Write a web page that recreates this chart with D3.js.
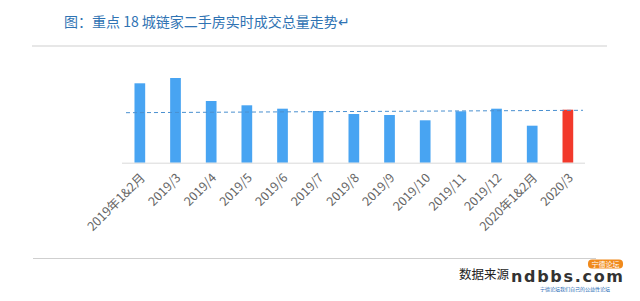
<!DOCTYPE html>
<html>
<head>
<meta charset="utf-8">
<script src="https://cdn.jsdelivr.net/npm/d3@7"></script>
<style>
  body { margin: 0; background: #fff; }
  svg { display: block; font-family: "Noto Sans CJK SC", "Noto Sans", sans-serif; }
</style>
</head>
<body>
<svg width="640" height="301"></svg>
<script>
'use strict'

// 重点18城链家二手房成交量（相对高度，读自原图）
const months = ['2019年1&2月', '2019/3', '2019/4', '2019/5', '2019/6', '2019/7', '2019/8',
  '2019/9', '2019/10', '2019/11', '2019/12', '2020年1&2月', '2020/3']
const volume = [79.4, 84.7, 61.7, 57.4, 54, 51.7, 48.7, 47.7, 42.4, 51.4, 54, 37, 53]
// 虚线参考线 起点/终点
const refLine = [50, 52.4]

const svg = d3.select('svg')

const x = d3.scaleBand().domain(months).range([122, 585.7])
  .paddingInner(0.7).paddingOuter(0.35)
const y = d3.scaleLinear().domain([0, 100]).range([162.7, 62.7])

// title
svg.append('text')
  .attr('x', 64).attr('y', 27)
  .style('font-size', '14px')
  .style('fill', '#2f73b3')
  .text('图：重点 18 城链家二手房实时成交总量走势↵')

svg.append('line')
  .attr('x1', 32).attr('x2', 607).attr('y1', 46).attr('y2', 46)
  .style('stroke', '#cfcfcf').style('stroke-width', 1.2)

// bars
svg.selectAll('rect.bar').data(months)
  .enter()
  .append('rect')
  .classed('bar', true)
  .attr('x', (d) => x(d))
  .attr('width', x.bandwidth())
  .attr('y', (d, i) => y(volume[i]))
  .attr('height', (d, i) => y(0) - y(volume[i]))
  .style('fill', (d, i) => i === months.length - 1 ? '#f2392b' : '#48a4f2')

// axis line
svg.append('line')
  .attr('x1', 122).attr('x2', 585).attr('y1', y(0) + 0.5).attr('y2', y(0) + 0.5)
  .style('stroke', '#d9d9d9')

// dashed reference line
svg.append('line')
  .attr('x1', 126).attr('x2', 583)
  .attr('y1', y(refLine[0])).attr('y2', y(refLine[1]))
  .style('stroke', '#4a90d0').style('stroke-width', 1)
  .style('stroke-dasharray', '4,3')

// tick labels
svg.selectAll('text.tick').data(months)
  .enter()
  .append('text')
  .classed('tick', true)
  .attr('transform', (d) => `translate(${x(d) + x.bandwidth() / 2 + 6},${y(0) + 16}) rotate(-45)`)
  .attr('text-anchor', 'end')
  .style('font-size', '12.5px')
  .style('fill', '#666')
  .text((d) => d)

// footer
svg.append('line')
  .attr('x1', 33).attr('x2', 596).attr('y1', 258.5).attr('y2', 258.5)
  .style('stroke', '#cfcfcf').style('stroke-width', 1.2)

svg.append('text')
  .attr('x', 459).attr('y', 279)
  .style('font-size', '12.5px')
  .style('fill', '#222')
  .text('数据来源')

svg.append('text')
  .attr('x', 511).attr('y', 282)
  .attr('textLength', 112)
  .style('font-family', '"DejaVu Sans", sans-serif')
  .style('font-size', '16px')
  .style('font-weight', 'bold')
  .style('fill', '#333')
  .text('ndbbs.com')

svg.append('rect')
  .attr('x', 588).attr('y', 259.5).attr('width', 35).attr('height', 9).attr('rx', 4)
  .style('fill', '#f08a1c')
svg.append('text')
  .attr('x', 605.5).attr('y', 266.5)
  .attr('text-anchor', 'middle')
  .style('font-size', '7px')
  .style('fill', '#fff')
  .text('宁德论坛')
svg.append('text')
  .attr('x', 540).attr('y', 291)
  .style('font-size', '5px')
  .style('fill', '#2a6bb5')
  .text('宁德论坛我们自己的公益性论坛')
</script>
</body>
</html>
